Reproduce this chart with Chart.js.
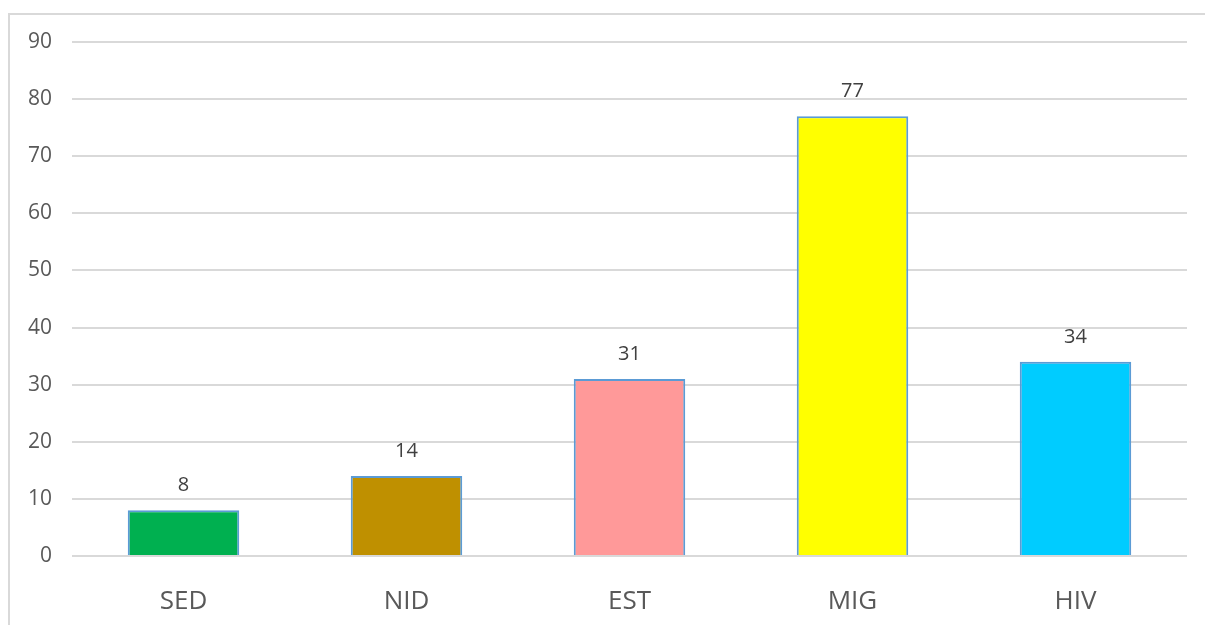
<!DOCTYPE html>
<html>
<head>
<meta charset="utf-8">
<script src="https://cdn.jsdelivr.net/npm/chart.js@4"></script>
<style>
  body { margin: 0; background: #fff; }
  #wrap { position: relative; width: 1205px; height: 625px; overflow: hidden; }
  #frame { position: absolute; left: 8px; top: 13px; width: 1300px; height: 700px;
           border-left: 2px solid #d9d9d9; border-top: 2px solid #d9d9d9; }
  canvas { position: absolute; left: 0; top: 0; }
</style>
</head>
<body>
<div id="wrap">
  <div id="frame"></div>
  <canvas id="chart" width="1205" height="625"></canvas>
</div>
<script>
// categories und werte
const categories = ['SED', 'NID', 'EST', 'MIG', 'HIV'];
const values = [8, 14, 31, 77, 34];
const barColors = ['#00B050', '#BF9000', '#FF9999', '#FFFF00', '#00CCFF'];
const yTicks = [0, 10, 20, 30, 40, 50, 60, 70, 80, 90];

const fontFam = '"Open Sans", "Noto Sans", sans-serif';

/**
 * valueLabels: schreibt die Werte über die Balken
 */
const valueLabels = {
  id: 'valueLabels',
  afterDatasetsDraw(chart) {
    const ctx = chart.ctx;
    const meta = chart.getDatasetMeta(0);
    ctx.save();
    ctx.font = '20px ' + fontFam;
    ctx.fillStyle = '#404040';
    ctx.textAlign = 'center';
    ctx.textBaseline = 'alphabetic';
    meta.data.forEach((bar, i) => {
      ctx.fillText(String(values[i]), bar.x, bar.y - 19);
    });
    ctx.restore();
  }
};

const ctx = document.getElementById('chart').getContext('2d');
const myChart = new Chart(ctx, {
  type: 'bar',
  data: {
    labels: categories,
    datasets: [{
      data: values,
      backgroundColor: barColors,
      borderColor: '#5B9BD5',
      borderWidth: 2,
      categoryPercentage: 1,
      barPercentage: 0.5
    }]
  },
  options: {
    responsive: false,
    animation: false,
    layout: { padding: { left: 0, right: 18, top: 42, bottom: 0 } },
    plugins: { legend: { display: false }, tooltip: { enabled: false } },
    scales: {
      x: {
        grid: { display: false },
        border: { display: false },
        ticks: { color: '#595959', font: { family: fontFam, size: 26 }, padding: 22 },
        afterFit(scale) { scale.height = 69; }
      },
      y: {
        min: 0,
        max: 90,
        afterBuildTicks(scale) { scale.ticks = yTicks.map(v => ({ value: v })); },
        grid: { color: '#d9d9d9', lineWidth: 2, drawTicks: false },
        border: { display: false },
        ticks: { color: '#595959', font: { family: fontFam, size: 21 }, padding: 20 },
        afterFit(scale) { scale.width = 72; }
      }
    }
  },
  plugins: [valueLabels]
});
</script>
</body>
</html>
